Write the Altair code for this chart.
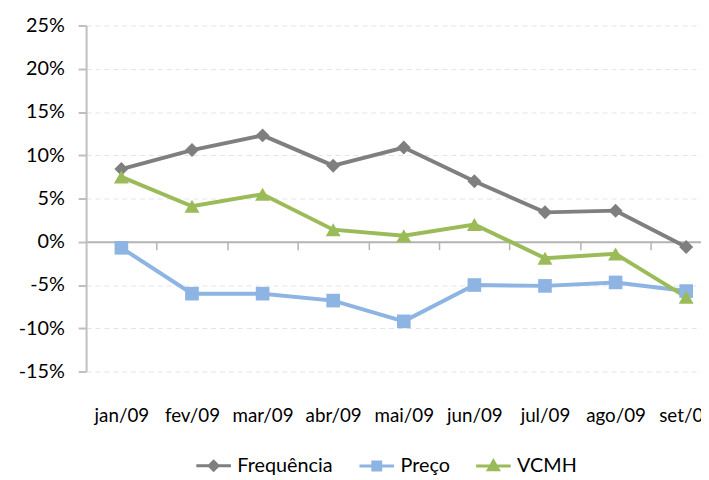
import altair as alt
import pandas as pd

months = ["jan/09", "fev/09", "mar/09", "abr/09", "mai/09", "jun/09", "jul/09", "ago/09", "set/09"]
series_names = ["Frequência", "Preço", "VCMH"]
frequencia = [8.4, 10.6, 12.3, 8.8, 10.9, 7.0, 3.4, 3.6, -0.6]
preco = [-0.7, -6.0, -6.0, -6.8, -9.2, -5.0, -5.1, -4.7, -5.7]
vcmh = [7.5, 4.1, 5.5, 1.4, 0.7, 2.0, -1.9, -1.4, -6.4]
colors = ["#7f7f7f", "#8db4e2", "#9bbb59"]
marker_shapes = ["diamond", "square", "triangle-up"]
marker_sizes = [200, 190, 230]
y_ticks = [-15, -10, -5, 0, 5, 10, 15, 20, 25]

FONT = "Lato, DejaVu Sans Condensed, sans-serif"

rows = []
for name, vals in zip(series_names, [frequencia, preco, vcmh]):
    for i, (m, v) in enumerate(zip(months, vals)):
        rows.append({"idx": i, "month": m, "series": name, "value": v})
df = pd.DataFrame(rows)

X_MIN, X_MAX = -0.5, 8.21
WIDTH, HEIGHT = 622, 350
band_px = WIDTH / (X_MAX - X_MIN)
zero_offset = HEIGHT * (0 - y_ticks[0]) / (y_ticks[-1] - y_ticks[0])

xs = alt.Scale(domain=[X_MIN, X_MAX], nice=False, zero=False)
ys = alt.Scale(domain=[y_ticks[0], y_ticks[-1]], nice=False, zero=False)

label_expr = "[" + ",".join("'%s'" % m for m in months) + "][datum.value]"

# x axis drawn on the 0% line, ticks between categories, labels at the bottom
x_axis = alt.Axis(
    orient="bottom", offset=-zero_offset, values=list(range(len(months))),
    labelExpr=label_expr, domain=True, domainColor="#b3b3b3", domainWidth=2,
    ticks=True, tickSize=8, tickColor="#b3b3b3", tickWidth=1.5,
    tickOffset=band_px / 2, labelOffset=-band_px / 2,
    grid=False, title=None, labelFont=FONT, labelFontSize=19, labelColor="#000000",
    labelPadding=zero_offset + 28, labelOverlap=False, labelBound=False, labelFlush=False,
)
y_axis = alt.Axis(
    orient="left", values=y_ticks, labelExpr="datum.value + '%'", title=None,
    labelFont=FONT, labelFontSize=20, labelColor="#000000", labelPadding=14,
    tickSize=8, tickColor="#bfbfbf", tickWidth=2, domainColor="#bfbfbf",
    domainWidth=2, grid=True, gridColor="#e4e4e4", gridDash=[5, 4], gridWidth=1,
)

X = alt.X("idx:Q", scale=xs, axis=x_axis)
Y = alt.Y("value:Q", scale=ys, axis=y_axis)

line_layers = []
point_layers = []
for name, col, shp, sz in zip(series_names, colors, marker_shapes, marker_sizes):
    base = alt.Chart(df).transform_filter(alt.datum.series == name)
    line_layers.append(base.mark_line(strokeWidth=4, color=col).encode(x=X, y=Y))
    point_layers.append(
        base.mark_point(filled=True, opacity=1, size=sz, shape=shp, color=col).encode(x=X, y=Y)
    )

# legend symbols: a short line with the series marker on it
legend_paths = [
    "M-3.5,0H3.5M0,-0.9L0.9,0L0,0.9L-0.9,0Z",
    "M-3.5,0H3.5M-0.8,-0.8H0.8V0.8H-0.8Z",
    "M-3.5,0H3.5M0,-1.0L1.0,0.75L-1.0,0.75Z",
]
leg = alt.Legend(
    orient="none", legendX=119, legendY=435, direction="horizontal", title=None,
    labelFont=FONT, labelFontSize=20, labelColor="#000000", symbolSize=100,
    symbolStrokeWidth=3, symbolOpacity=1, labelOffset=14, columnPadding=20,
)
legend_layer = alt.Chart(df).mark_point(filled=True, opacity=0, size=100, strokeWidth=3).encode(
    x=X, y=Y,
    fill=alt.Fill("series:N", scale=alt.Scale(domain=series_names, range=colors), legend=leg),
    stroke=alt.Stroke("series:N", scale=alt.Scale(domain=series_names, range=colors), legend=leg),
    shape=alt.Shape("series:N", scale=alt.Scale(domain=series_names, range=legend_paths), legend=leg),
)

chart = alt.layer(*line_layers, *point_layers, legend_layer).properties(
    width=WIDTH, height=HEIGHT,
    padding={"left": 79, "top": 15, "right": 0, "bottom": 107},
    autosize=alt.AutoSizeParams(type="none"),
).configure_view(stroke=None)

chart.save("out.html", embed_options={"renderer": "svg", "actions": False})
